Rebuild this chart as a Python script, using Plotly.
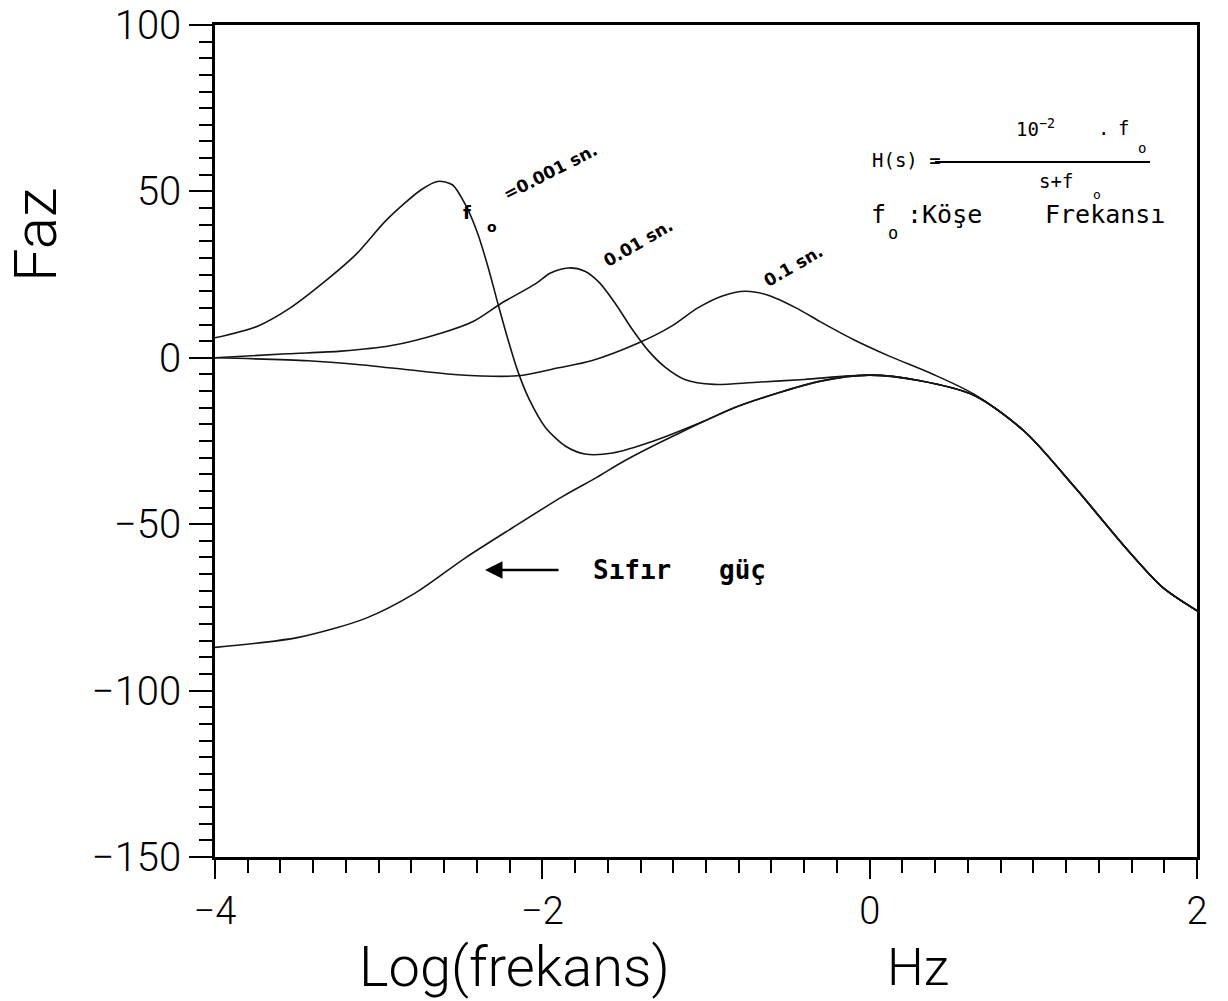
import plotly.graph_objects as go

# Phase response of H(s) = 10^-2 * f_o / (s + f_o) for several corner frequencies
x_001 = [-4.0, -3.74, -3.54, -3.34, -3.14, -2.95, -2.74, -2.64, -2.55, -2.47, -2.40, -2.33,
         -2.27, -2.21, -2.15, -2.08, -1.98, -1.86, -1.74, -1.57, -1.32, -1.01, -0.80,
         -0.30, 0.0, 0.30, 0.64, 0.95, 1.26, 1.58, 1.79, 2.0]
y_001 = [6, 9.5, 15, 22.5, 31, 41.5, 50.5, 53, 52, 46, 38, 27,
         16, 5.5, -4, -12.5, -21, -26.5, -28.9, -28.6, -25, -19, -14.5,
         -7, -5.2, -6.8, -11.3, -22.3, -39.3, -58, -69, -76]

x_01 = [-4.0, -3.56, -3.23, -2.93, -2.62, -2.42, -2.25, -2.04, -1.95, -1.84, -1.74, -1.65,
        -1.55, -1.45, -1.35, -1.25, -1.13, -0.95, -0.71, -0.40, 0.0, 0.30, 0.64, 0.95,
        1.26, 1.58, 1.79, 2.0]
y_01 = [0, 1.2, 2, 3.6, 7.4, 11, 16.4, 22.3, 25.5, 27, 26, 22.5,
        16, 8.5, 2, -2.8, -6.5, -8, -7.4, -6.5, -5.2, -6.8, -11.3, -22.3,
        -39.3, -58, -69, -76]

x_1 = [-4.0, -3.43, -3.13, -2.82, -2.52, -2.15, -1.90, -1.70, -1.41, -1.21, -1.05, -0.90,
       -0.76, -0.62, -0.45, -0.30, -0.10, 0.12, 0.38, 0.64, 0.95, 1.26, 1.58, 1.79, 2.0]
y_1 = [0, -0.9, -2, -3.6, -5.1, -5.4, -3, -0.9, 4.5, 9.5, 15, 18.6,
       20, 18.8, 15, 10.8, 5.5, 0.5, -4.8, -11, -22.3, -39.3, -58, -69, -76]

x_zero = [-4.0, -3.49, -3.08, -2.78, -2.47, -2.18, -1.87, -1.67, -1.50, -1.20, -0.80,
          -0.30, 0.0, 0.30, 0.64, 0.95, 1.26, 1.58, 1.79, 2.0]
y_zero = [-87, -84, -78.3, -70.8, -60.1, -51, -41.5, -36, -31, -23.5, -14.5,
          -7, -5.2, -6.8, -11.3, -22.3, -39.3, -58, -69, -76]

x_ticks = [-4, -2, 0, 2]
y_ticks = [-150, -100, -50, 0, 50, 100]

curves = [("0.001 sn.", x_001, y_001), ("0.01 sn.", x_01, y_01),
          ("0.1 sn.", x_1, y_1), ("Sıfır güç", x_zero, y_zero)]

W, H = 1228, 1001
L, R, T, B = 215, 31, 25, 144
PW, PH = W - L - R, H - T - B


def px(xp, yp):
    """Pixel position on the page -> paper coordinates."""
    return (xp - L) / PW, (H - B - yp) / PH


def minus(v):
    return f"{v}" if v >= 0 else f"\u2212{abs(v)}"


fig = go.Figure()
for name, xs, ys in curves:
    fig.add_trace(go.Scatter(x=xs, y=ys, mode="lines", name=name,
                             line=dict(color="#151515", width=1.6, shape="spline", smoothing=0.8),
                             showlegend=False, hoverinfo="skip"))

thin = dict(family="Roboto, Inter, Lato, sans-serif", color="black", weight=300)
mono = "DejaVu Sans Mono, Liberation Mono, monospace"

axis_common = dict(showline=True, linecolor="black", linewidth=2.5, mirror=True,
                   ticks="outside", tickcolor="black", tickwidth=2,
                   showgrid=False, zeroline=False, automargin=False)

fig.update_xaxes(range=[-4, 2], tickmode="array", tickvals=x_ticks,
                 ticktext=[minus(v) for v in x_ticks], ticklen=19,
                 tickfont=dict(size=38, **thin),
                 minor=dict(dtick=0.2, tick0=-4, ticks="outside", ticklen=13,
                            tickwidth=2, tickcolor="black"),
                 **axis_common)
fig.update_yaxes(range=[-150, 100], tickmode="array", tickvals=y_ticks,
                 ticktext=[minus(v) for v in y_ticks], ticklen=23,
                 tickfont=dict(size=40, **thin),
                 minor=dict(dtick=5, tick0=0, ticks="outside", ticklen=13,
                            tickwidth=2, tickcolor="black"),
                 **axis_common)

ann = []


def text_at(xp, yp, text, size, family, xanchor="center", angle=0, weight=400):
    xx, yy = px(xp, yp)
    ann.append(dict(x=xx, y=yy, xref="paper", yref="paper", text=text, showarrow=False,
                    xanchor=xanchor, yanchor="middle", textangle=angle,
                    font=dict(size=size, family=family, color="black", weight=weight)))


# axis titles
text_at(35, 235, "Faz", 60, thin["family"], angle=-90, weight=300)
text_at(357, 967, "Log(frekans)", 56, thin["family"], xanchor="left", weight=300)
text_at(885, 967, "Hz", 52, thin["family"], xanchor="left", weight=300)

# curve labels
bold_font = "DejaVu Sans, Verdana, sans-serif"
text_at(467, 213, "f", 18, bold_font, weight=700)
text_at(492, 227, "o", 14, bold_font, weight=700)
text_at(550, 172, "=0.001 sn.", 17, bold_font, angle=-27, weight=700)
text_at(638, 243, "0.01 sn.", 17, bold_font, angle=-30, weight=700)
text_at(793, 266, "0.1 sn.", 17, bold_font, angle=-30, weight=700)

# zero-power label with arrow
hx, hy = px(485, 570)
ann.append(dict(x=hx, y=hy, xref="paper", yref="paper", text="", showarrow=True,
                ax=75, ay=0, arrowhead=2, arrowsize=1.4, arrowwidth=2.5, arrowcolor="black"))
text_at(632, 570, "Sıfır", 26, mono, weight=700)
text_at(742, 570, "güç", 26, mono, weight=700)

# transfer function
text_at(870, 160, "H(s) =", 19, mono, xanchor="left")
text_at(1014, 128, "10<sup>\u22122</sup>", 19, mono, xanchor="left")
text_at(1103, 128, ".", 19, mono)
text_at(1123, 128, "f", 19, mono)
text_at(1142, 148, "o", 14, mono)
text_at(1056, 181, "s+f", 19, mono)
text_at(1097, 194, "o", 13, mono)
text_at(878, 215, "f", 25, mono)
text_at(893, 233, "o", 17, mono)
text_at(905, 215, ":Köşe", 25, mono, xanchor="left")
text_at(1105, 215, "Frekansı", 25, mono)

x0, y0 = px(935, 162)
x1, _ = px(1150, 162)
fig.add_shape(type="line", xref="paper", yref="paper", x0=x0, x1=x1, y0=y0, y1=y0,
              line=dict(color="black", width=2))

fig.update_layout(width=W, height=H, margin=dict(l=L, r=R, t=T, b=B, autoexpand=False),
                  paper_bgcolor="white", plot_bgcolor="white", annotations=ann)

fig.write_html("out.html")
